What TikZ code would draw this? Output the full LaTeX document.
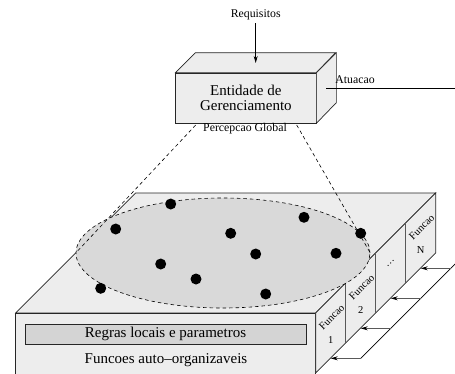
\documentclass[tikz,border=0pt]{standalone}
\usepackage{fontspec}
\setmainfont{Liberation Serif}
\usetikzlibrary{shapes.geometric,arrows.meta}

\tikzset{
  face/.style={draw=black!85, fill=black!7, line width=0.7pt},
  lbl/.style={font=\fontsize{11.8}{13}\selectfont, inner sep=0pt},
  big/.style={font=\fontsize{15}{15.5}\selectfont, align=center},
  fn/.style={font=\fontsize{10.5}{12}\selectfont, inner sep=0pt},
  tip/.style={-{Stealth[length=7pt,width=4pt,black]}},
  feed/.style={draw=black!65, line width=0.8pt, tip},
  view/.style={dash pattern=on 3.5pt off 3pt, line width=0.6pt},
}

\begin{document}
\begin{tikzpicture}[x=1pt,y=-1pt]
        \useasboundingbox (0,0) rectangle (455,373);
        % lower box
        \draw[face] (15.7,313) -- (315.7,313) -- (435.7,193) -- (135.7,193) -- cycle;
        \draw[face] (15.7,313) rectangle (315.7,380);
        \draw[face] (315.7,313) -- (435.7,193) -- (435.7,253) -- (315.7,373) -- cycle;
        \foreach \x in {345.7,375.7,405.7}
            \draw[draw=black!65, line width=0.8pt] (\x,{313-(\x-315.7)}) -- (\x,{373-(\x-315.7)});
        \foreach \k/\n in {0/1,1/2,3/N} {
            \node[fn, rotate=45] (fun\n) at ({331.7+30*\k},{317-30*\k}) {Funcao};
            \node[fn] (num\n) at ({330.7+30*\k},{340-30*\k}) {\n};
        }
        \node[fn, rotate=45] (dots) at (390.7,263) {\dots};
        \node[draw=black!85, fill=black!17, line width=0.7pt, minimum width=281pt, minimum height=20pt, font=\fontsize{15}{16}\selectfont] (rules) at (165.5,334) {Regras locais e parametros};
        \node[big] (self) at (166,360) {Funcoes auto--organizaveis};
        % feedback into each function
        \coordinate (fb0) at (360.7,358.3);
        \coordinate (fb1) at (465,254);
        \draw[line width=0.7pt] (fb0) -- (fb1);
        \foreach \k in {0,...,3} {
            \coordinate (src\k) at ({360.7+30*\k},{358.3-30*\k});
            \coordinate (dst\k) at ({330.7+30*\k},{358.3-30*\k});
            \draw[feed] (src\k) -- (dst\k);
        }
        % swarm of nodes
        \node[ellipse, draw, view, fill=black!15, minimum width=294pt, minimum height=110pt, inner sep=0pt] (swarm) at (223,253) {};
        \foreach \x/\y in {170.7/204, 115.7/229, 230.7/233.3, 304/217.3, 255.7/254, 160.7/264, 196/279, 100.7/288.3, 265.7/294, 360.7/233.3, 336/253.3}
            \fill (\x,\y) circle (5.5pt);
        % management entity
        \node[draw=black!85, fill=black!7, line width=0.7pt, minimum width=140.3pt, minimum height=50pt, big] (ent) at (245.85,98) {Entidade de\\Gerenciamento};
        \draw[face] (ent.north west) -- ++(20,-20) -- ++(140.3,0) -- (ent.north east) -- cycle;
        \draw[face] (ent.north east) -- ++(20,-20) -- ++(0,50) -- (ent.south east) -- cycle;
        \node[lbl] (req) at (255.7,15) {Requisitos};
        \coordinate (reqin) at (255.7,63);
        \draw[tip, line width=0.7pt] ([yshift=-3pt]req.south) -- (reqin);
        \node[lbl] (act) at (355,80) {Atuacao};
        \coordinate (act0) at (326,88);
        \coordinate (act1) at (465,88);
        \draw[line width=0.7pt] (act0) -- (act1);
        \node[lbl] (perc) at (245,129) {Percepcao Global};
        \coordinate (pl) at (195.7,125);
        \coordinate (pr) at (296.7,125);
        \draw[view] (pl) -- (swarm.west);
        \draw[view] (pr) -- (swarm.east);
    \end{tikzpicture}
\end{document}
